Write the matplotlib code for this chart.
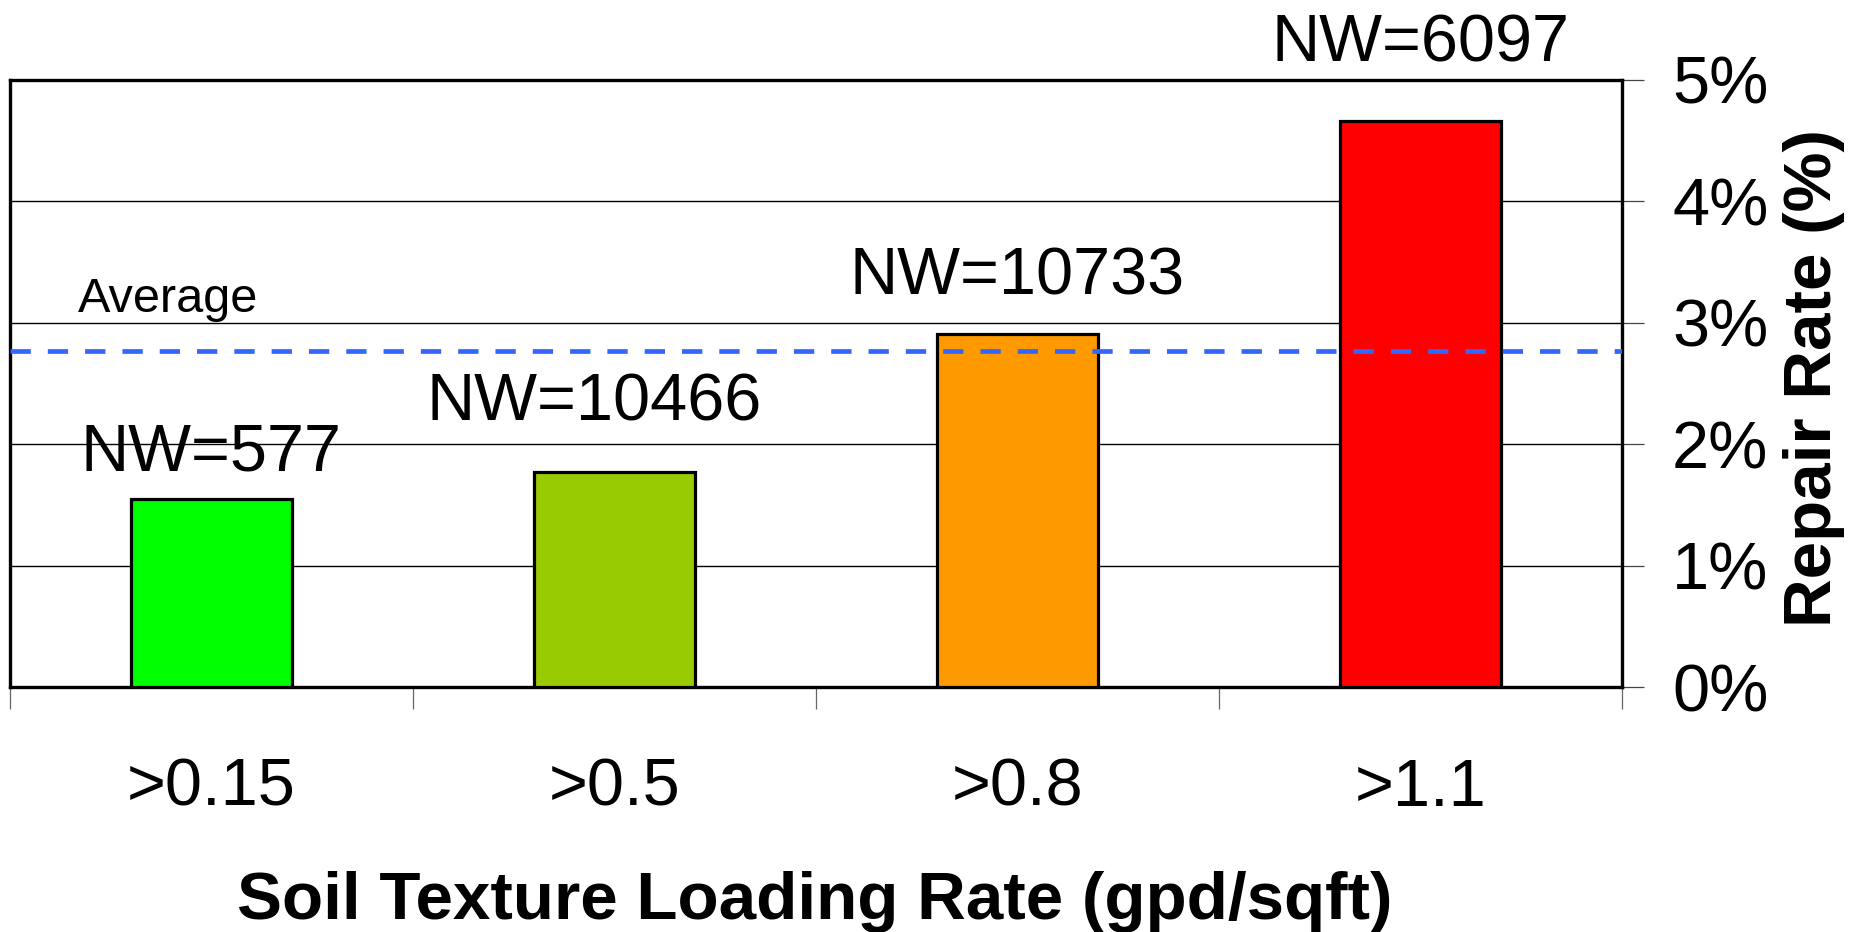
import matplotlib
matplotlib.use("Agg")
import matplotlib.pyplot as plt
from matplotlib.ticker import FixedLocator, FuncFormatter

plt.rcParams['font.family'] = ['Liberation Sans', 'DejaVu Sans']

# ---- data ----
categories = [">0.15", ">0.5", ">0.8", ">1.1"]
repair_rate = [1.55, 1.77, 2.91, 4.66]          # percent
nw_labels = ["NW=577", "NW=10466", "NW=10733", "NW=6097"]
average_rate = 2.77                              # percent
bar_colors = ["#00FF00", "#99CC00", "#FF9900", "#FF0000"]
y_ticks = [0, 1, 2, 3, 4, 5]

# ---- label placement (pixels offsets from bar top) ----
label_offsets = [(0, 28), (-20, 52), (0, 39), (0, 60)]

W, H = 1852, 932
fig = plt.figure(figsize=(W / 100, H / 100), dpi=100)
ax = fig.add_axes([10 / W, 1 - 687 / H, (1622 - 10) / W, (687 - 80) / H])

x = list(range(len(categories)))
ax.bar(x, repair_rate, width=0.40, color=bar_colors, edgecolor="black",
       linewidth=2.3, zorder=3)

ax.set_xlim(-0.5, len(categories) - 0.5)
ax.set_ylim(0, 5)

# gridlines
ax.yaxis.grid(True, color="black", linewidth=1.0, zorder=1)
ax.set_axisbelow(True)

# average line
ax.axhline(average_rate, color="#3366FF", linewidth=3.4, linestyle=(0, (4.3, 3.6)), zorder=4)
ax.annotate("Average", xy=(0, average_rate), xycoords=ax.get_yaxis_transform(),
            xytext=(68, 39), textcoords="offset pixels", ha="left", va="baseline",
            fontsize=35)

# NW labels
for xi, val, lab, off in zip(x, repair_rate, nw_labels, label_offsets):
    ax.annotate(lab, xy=(xi, val), xytext=off, textcoords="offset pixels",
                ha="center", va="baseline", fontsize=48)

# spines
for s in ax.spines.values():
    s.set_linewidth(2.4)
    s.set_color("black")

# y axis on right
ax.yaxis.tick_right()
ax.yaxis.set_major_locator(FixedLocator(y_ticks))
ax.yaxis.set_major_formatter(FuncFormatter(lambda v, p: f"{v:.0f}%"))
ax.tick_params(axis="y", which="major", direction="out", length=16, width=0.9,
               color="#444444", labelsize=48, pad=20)

# x axis: boundary ticks (major), labels at centers (minor)
ax.xaxis.set_major_locator(FixedLocator([i - 0.5 for i in range(len(categories) + 1)]))
ax.xaxis.set_major_formatter(FuncFormatter(lambda v, p: ""))
ax.xaxis.set_minor_locator(FixedLocator(x))
ax.set_xticklabels(categories, minor=True)
ax.tick_params(axis="x", which="major", direction="out", length=16, width=0.9, color="#666666")
ax.tick_params(axis="x", which="minor", length=0, labelsize=48, pad=51)

# axis titles
fig.text(815 / W, 1 - 919 / H, "Soil Texture Loading Rate (gpd/sqft)",
         ha="center", va="baseline", fontsize=48.5, fontweight="bold")
fig.text(1814 / W, 1 - 378 / H, "Repair Rate (%)", rotation=90,
         ha="center", va="center", fontsize=48.5, fontweight="bold")

fig.savefig("out.png", dpi=100, facecolor="white")
